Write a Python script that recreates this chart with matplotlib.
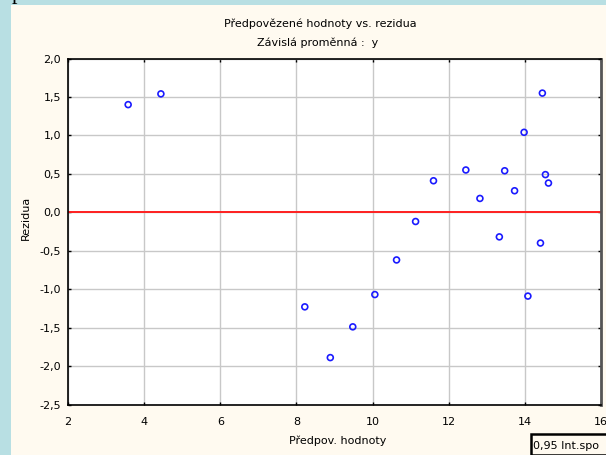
import matplotlib
matplotlib.use("Agg")
import matplotlib.pyplot as plt
from matplotlib.patches import Rectangle
from matplotlib.ticker import FuncFormatter

# Data
pred = [3.58, 4.44, 8.22, 8.89, 9.48, 10.06, 10.63, 11.13, 11.60, 12.45,
        12.82, 13.33, 13.47, 13.73, 13.98, 14.08, 14.41, 14.46, 14.54, 14.62]
resid = [1.40, 1.54, -1.23, -1.89, -1.49, -1.07, -0.62, -0.12, 0.41, 0.55,
         0.18, -0.32, 0.54, 0.28, 1.04, -1.09, -0.40, 1.55, 0.49, 0.38]
xticks = [2, 4, 6, 8, 10, 12, 14, 16]
yticks = [-2.5, -2.0, -1.5, -1.0, -0.5, 0.0, 0.5, 1.0, 1.5, 2.0]

title1 = "Předpovězené hodnoty vs. rezidua"
title2 = "Závislá proměnná :  y"
xlabel = "Předpov. hodnoty"
ylabel = "Rezidua"
boxtext = "0,95 Int.spo"

W, H = 606, 455
fig = plt.figure(figsize=(W / 100, H / 100), dpi=100)
fig.patch.set_facecolor("#b8dfe3")
fig.patches.append(Rectangle((11 / W, 0), 1 - 11 / W, 1 - 5 / H,
                             transform=fig.transFigure, facecolor="#fffaf0",
                             edgecolor="none", zorder=-2))
fig.text(12 / W, 1 - 4 / H, "p", family="Liberation Serif", fontsize=16,
         va="bottom", ha="left", color="black", zorder=-1)

FONT = "DejaVu Sans"
FS = 8

ax = fig.add_axes([68 / W, (H - 404.5) / H, (601 - 68) / W, (404.5 - 58.5) / H])
ax.set_zorder(1)
ax.set_facecolor("white")
ax.set_xlim(2, 16)
ax.set_ylim(-2.5, 2.0)
ax.set_xticks(xticks)
ax.set_yticks(yticks)
ax.xaxis.set_major_formatter(FuncFormatter(lambda v, p: f"{v:g}"))
ax.yaxis.set_major_formatter(FuncFormatter(lambda v, p: f"{v:.1f}".replace(".", ",")))
ax.grid(True, color="#c8c8c8", linewidth=1.0, zorder=1)
ax.set_axisbelow(True)
ax.tick_params(direction="in", length=2.5, width=1, top=True, right=True,
               labelsize=FS, colors="black")
ax.tick_params(axis="x", pad=9)
ax.tick_params(axis="y", pad=5)
for lab in ax.get_xticklabels() + ax.get_yticklabels():
    lab.set_family(FONT)
for s in ax.spines.values():
    s.set_linewidth(1.2)
    s.set_color("black")
ax.spines["right"].set_linewidth(2.0)
ax.spines["right"].set_color("#555555")

ax.axhline(0, color="#ff2020", linewidth=1.4, zorder=2)
ax.scatter(pred, resid, s=18, facecolors="none", edgecolors="#1a1aff",
           linewidths=1.2, zorder=3, clip_on=False)

fig.text(320 / W, 1 - 24 / H, title1, ha="center", va="center", fontsize=FS, family=FONT)
fig.text(318 / W, 1 - 43 / H, title2, ha="center", va="center", fontsize=FS, family=FONT)
fig.text(338 / W, 1 - 441 / H, xlabel, ha="center", va="center", fontsize=FS, family=FONT)
fig.text(26 / W, 1 - 218 / H, ylabel, ha="center", va="center", rotation=90,
         fontsize=FS, family=FONT)

fig.patches.append(Rectangle((530.5 / W, 0), (W - 530) / W, (H - 433.5) / H,
                             transform=fig.transFigure, facecolor="#fffaf0",
                             edgecolor="black", linewidth=1.8, zorder=5))
fig.text(533 / W, 1 - 446 / H, boxtext, ha="left", va="center", fontsize=FS,
         family=FONT, zorder=6)

fig.savefig("out.png", dpi=100)
